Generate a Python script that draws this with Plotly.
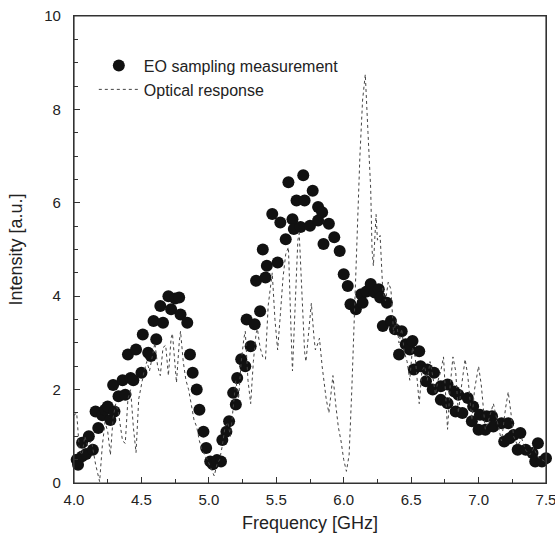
import plotly.graph_objects as go

# EO sampling measurement (markers)
eo_freq = [3.98, 4.02, 4.03, 4.06, 4.06, 4.09, 4.11, 4.14, 4.16, 4.18, 4.21, 4.23, 4.25, 4.27,
           4.30, 4.29, 4.33, 4.36, 4.38, 4.40, 4.42, 4.44, 4.46, 4.50, 4.51, 4.55, 4.57, 4.59,
           4.61, 4.64, 4.66, 4.70, 4.72, 4.75, 4.78, 4.79, 4.84, 4.86, 4.88, 4.91, 4.93, 4.96,
           4.98, 5.01, 5.03, 5.06, 5.09, 5.10, 5.13, 5.15, 5.18, 5.20, 5.21, 5.24, 5.27, 5.28,
           5.31, 5.34, 5.38, 5.35, 5.40, 5.42, 5.43, 5.47, 5.51, 5.53, 5.57, 5.59, 5.62, 5.63,
           5.65, 5.68, 5.70, 5.71, 5.75, 5.77, 5.81, 5.81, 5.84, 5.85, 5.89, 5.93, 5.97, 6.00,
           6.03, 6.05, 6.09, 6.13, 6.14, 6.17, 6.20, 6.23, 6.26, 6.27, 6.29, 6.32, 6.35, 6.38,
           6.41, 6.43, 6.46, 6.49, 6.51, 6.52, 6.56, 6.57, 6.61, 6.62, 6.66, 6.67, 6.72, 6.72,
           6.77, 6.77, 6.82, 6.83, 6.85, 6.88, 6.92, 6.95, 6.96, 7.00, 7.01, 7.05, 7.06, 7.10,
           7.11, 7.17, 7.19, 7.22, 7.23, 7.26, 7.29, 7.31, 7.35, 7.40, 7.42, 7.44, 7.47, 7.50]
eo_int = [0.65, 0.50, 0.39, 0.57, 0.86, 0.62, 1.00, 0.71, 1.53, 1.18, 1.45, 1.57, 1.64, 1.35,
          1.53, 2.10, 1.86, 2.20, 1.89, 2.75, 2.25, 2.20, 2.86, 2.36, 3.18, 2.79, 2.72, 3.47,
          3.08, 3.79, 3.43, 4.00, 3.72, 3.95, 3.97, 3.61, 3.43, 2.75, 2.36, 2.00, 1.57, 1.10,
          0.75, 0.46, 0.40, 0.49, 0.46, 0.92, 1.10, 1.32, 1.93, 1.68, 2.25, 2.65, 2.50, 3.50,
          2.93, 3.40, 3.68, 4.33, 5.00, 4.40, 4.65, 5.76, 4.72, 5.58, 5.22, 6.44, 5.65, 5.44,
          6.05, 5.48, 6.59, 6.05, 5.51, 6.26, 5.62, 5.91, 5.80, 5.12, 5.55, 5.26, 4.97, 4.47,
          4.22, 3.83, 3.72, 4.04, 3.86, 4.10, 4.26, 4.08, 4.15, 3.97, 3.36, 3.86, 3.47, 3.29,
          2.75, 3.25, 2.97, 2.86, 3.04, 2.43, 2.82, 2.50, 2.18, 2.43, 2.00, 2.36, 2.07, 1.78,
          2.11, 1.71, 1.96, 1.53, 1.89, 1.50, 1.82, 1.32, 1.64, 1.14, 1.46, 1.14, 1.43, 1.43,
          1.21, 1.28, 0.89, 1.28, 0.96, 1.03, 0.71, 1.07, 0.71, 0.64, 0.46, 0.85, 0.46, 0.53]

# Optical response (dotted line)
opt_freq = [4.00, 4.02, 4.04, 4.06, 4.08, 4.10, 4.13, 4.16, 4.19, 4.21, 4.23, 4.25, 4.27, 4.29,
            4.31, 4.33, 4.36, 4.38, 4.40, 4.42, 4.44, 4.46, 4.48, 4.50, 4.52, 4.54, 4.56, 4.58,
            4.60, 4.62, 4.64, 4.66, 4.68, 4.70, 4.72, 4.73, 4.75, 4.76, 4.78, 4.79, 4.81, 4.83,
            4.85, 4.87, 4.89, 4.91, 4.93, 4.95, 4.97, 4.99, 5.01, 5.04, 5.06, 5.08, 5.10, 5.12,
            5.14, 5.16, 5.18, 5.20, 5.22, 5.24, 5.26, 5.27, 5.29, 5.31, 5.33, 5.35, 5.36, 5.38,
            5.40, 5.42, 5.44, 5.46, 5.47, 5.49, 5.51, 5.53, 5.55, 5.57, 5.59, 5.61, 5.62, 5.64,
            5.66, 5.67, 5.69, 5.71, 5.72, 5.74, 5.76, 5.78, 5.79, 5.81, 5.82, 5.84, 5.87, 5.89,
            5.91, 5.92, 5.94, 5.96, 5.98, 6.00, 6.02, 6.04, 6.06, 6.08, 6.10, 6.12, 6.14, 6.16,
            6.18, 6.20, 6.21, 6.22, 6.23, 6.24, 6.25, 6.27, 6.29, 6.31, 6.33, 6.35, 6.37, 6.39,
            6.41, 6.43, 6.45, 6.47, 6.49, 6.51, 6.53, 6.56, 6.58, 6.60, 6.62, 6.64, 6.66, 6.68,
            6.70, 6.72, 6.74, 6.76, 6.77, 6.79, 6.81, 6.83, 6.85, 6.87, 6.90, 6.92, 6.95, 6.97,
            7.00, 7.02, 7.05, 7.08, 7.11, 7.14, 7.17, 7.20, 7.22, 7.24, 7.26, 7.29, 7.32, 7.35,
            7.38, 7.41, 7.44, 7.47, 7.50]
opt_int = [1.45, 1.50, 0.70, 0.60, 1.00, 0.80, 0.90, 0.40, 0.03, 0.80, 1.30, 1.10, 0.60, 1.40,
           1.70, 1.50, 0.90, 0.85, 1.80, 2.00, 1.20, 0.65, 1.80, 2.10, 2.40, 2.60, 2.40, 2.70,
           3.00, 2.50, 2.30, 2.90, 2.95, 2.30, 3.10, 3.20, 2.40, 2.15, 3.00, 3.25, 2.60, 2.20,
           2.00, 1.70, 1.35, 1.20, 0.90, 0.70, 0.60, 0.50, 0.35, 0.15, 0.40, 0.50, 0.80, 1.20,
           1.30, 1.00, 1.60, 2.20, 1.80, 2.60, 3.10, 3.25, 2.20, 1.70, 2.60, 3.20, 3.30, 2.90,
           2.70, 2.65, 3.80, 4.30, 4.50, 3.50, 2.85, 3.60, 4.40, 4.90, 5.05, 3.20, 2.40, 3.80,
           5.20, 5.35, 4.00, 2.80, 2.60, 3.30, 3.85, 3.10, 2.85, 3.00, 3.10, 2.50, 1.80, 1.50,
           2.10, 2.30, 1.70, 1.20, 0.90, 0.50, 0.25, 0.60, 2.00, 3.80, 5.50, 7.00, 8.20, 8.75,
           7.50, 6.30, 5.00, 4.65, 5.20, 5.75, 5.20, 5.30, 4.10, 3.90, 4.30, 4.15, 3.20, 3.50,
           3.00, 3.30, 2.80, 2.60, 2.20, 2.90, 2.70, 1.70, 2.40, 2.50, 2.20, 2.60, 2.30, 1.90,
           2.20, 2.40, 2.70, 1.80, 1.15, 2.10, 2.70, 2.40, 1.50, 2.00, 2.65, 2.30, 1.35, 2.00,
           2.50, 2.10, 1.15, 1.40, 1.70, 1.30, 0.90, 1.60, 1.95, 1.50, 1.00, 0.80, 0.95, 0.70,
           0.60, 0.75, 0.55, 0.50, 0.45]

x_ticks = [4.0, 4.5, 5.0, 5.5, 6.0, 6.5, 7.0, 7.5]
y_ticks = [0, 2, 4, 6, 8, 10]

font_family = "Liberation Sans, Arial, sans-serif"
txt = "#222222"
frame = "#333333"

fig = go.Figure()
fig.add_trace(go.Scatter(
    x=eo_freq, y=eo_int, mode="markers", name="EO sampling measurement",
    marker=dict(color="#111111", size=12, line=dict(width=0)),
    cliponaxis=False,
))
fig.add_trace(go.Scatter(
    x=opt_freq, y=opt_int, mode="lines", name="Optical response",
    line=dict(color="#444444", width=1, dash="dot"),
))

axis_common = dict(
    showline=True, linecolor=frame, linewidth=1.2, mirror=True,
    ticks="inside", ticklen=6, tickcolor=frame, tickwidth=1,
    showgrid=False, zeroline=False, automargin=False,
    tickfont=dict(family=font_family, size=15, color=txt),
)

fig.update_xaxes(
    range=[4.0, 7.5], tickvals=x_ticks, ticktext=[f"{v:.1f}" for v in x_ticks],
    ticklabeloverflow="allow", ticklabelstandoff=3,
    title=dict(text="Frequency [GHz]", font=dict(family=font_family, size=18, color=txt),
               standoff=9),
    minor=dict(dtick=0.25, ticks="inside", ticklen=4, tickcolor=frame),
    **axis_common,
)
fig.update_yaxes(
    range=[0, 10], tickvals=y_ticks, ticktext=[str(v) for v in y_ticks],
    ticklabelstandoff=9, ticklabeloverflow="allow",
    title=dict(text="Intensity [a.u.]", font=dict(family=font_family, size=18, color=txt),
               standoff=16),
    minor=dict(dtick=0.5, ticks="inside", ticklen=4, tickcolor=frame),
    **axis_common,
)

# plot frame
fig.add_shape(type="rect", xref="paper", yref="paper", x0=0, y0=0, x1=1, y1=1,
              line=dict(color=frame, width=1.2), fillcolor="rgba(0,0,0,0)", layer="above")

fig.update_layout(
    width=555, height=539,
    margin=dict(l=74, r=9, t=16, b=56),
    plot_bgcolor="white", paper_bgcolor="white",
    font=dict(family=font_family, size=15, color=txt),
    showlegend=True,
    legend=dict(
        x=0.042, y=0.93, xanchor="left", yanchor="top",
        bgcolor="rgba(0,0,0,0)", borderwidth=0,
        font=dict(family=font_family, size=16, color=txt),
        itemwidth=40, tracegroupgap=0,
    ),
)

# remove the default page margin so the figure fills the window exactly
fig.write_html("out.html", config={"displayModeBar": False},
               post_script="document.body.style.margin='0';document.body.style.overflow='hidden';")
